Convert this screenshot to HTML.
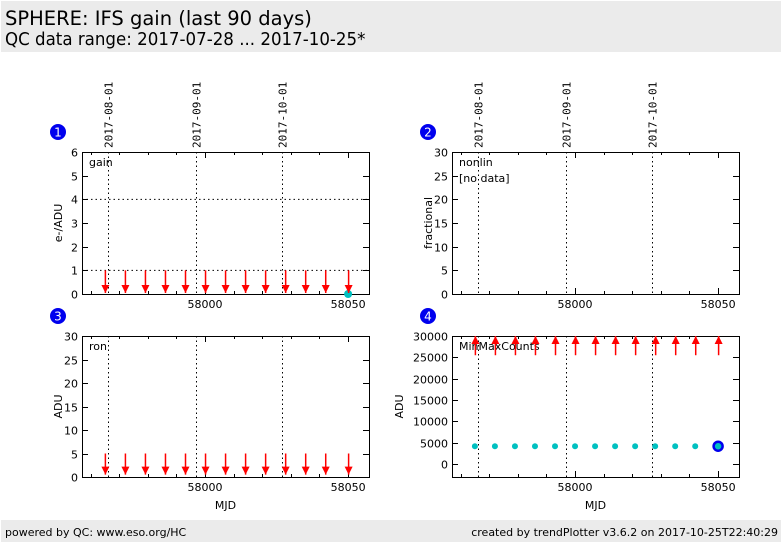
<!DOCTYPE html>
<html><head><meta charset="utf-8">
<style>
body{margin:0;width:782px;height:542px;background:#fff;font-family:"DejaVu Sans","Liberation Sans",sans-serif;overflow:hidden;position:relative}
#hdr{position:absolute;left:1px;top:1px;width:780px;height:51px;background:#ebebeb}
#hdr div{position:absolute;left:4px;color:#000;white-space:nowrap;transform-origin:0 0}
#ftr{position:absolute;left:1px;top:520px;width:780px;height:22px;background:#ebebeb;font-size:11px}
#ftr span{position:absolute;top:6px}
svg{position:absolute;left:0;top:0}
</style></head><body>
<div id="hdr">
<div style="top:6px;font-size:19.5px">SPHERE: IFS gain (last 90 days)</div>
<div style="top:28px;font-size:18px;transform:scaleX(0.925)">QC data range: 2017-07-28 ... 2017-10-25*</div>
</div>
<svg id="chart" width="782" height="542"></svg>
<div id="ftr">
<span style="left:4px">powered by QC: www.eso.org/HC</span>
<span style="right:3px">created by trendPlotter v3.6.2 on 2017-10-25T22:40:29</span>
</div>
<script>
const mjds=[57965,57972,57979,57986,57993,58000,58007,58014,58021,58028,58035,58042,58050];
const gainVals=[0,0,0,0,0,0,0,0,0,0,0,0,0];
const ronVals=[0.5,0.5,0.5,0.5,0.5,0.5,0.5,0.5,0.5,0.5,0.5,0.5,0.5];
const countsVals=[4200,4200,4200,4200,4200,4200,4200,4200,4200,4200,4200,4200,4200];
const dateLabels=["2017-08-01","2017-09-01","2017-10-01"];
const dateMjds=[57966,57997,58027];
const xTickLabels=[58000,58050];
const NS="http://www.w3.org/2000/svg";
const svg=document.getElementById('chart');
function el(t,a,p){const e=document.createElementNS(NS,t);for(const k in a)e.setAttribute(k,a[k]);(p||svg).appendChild(e);return e;}
const XMIN=57957,XMAX=58057.3;
const panels=[
 {n:1,x0:82,y0:152,x1:369,y1:294,ymin:0,ymax:6,yt:[0,1,2,3,4,5,6],ylab:"e-/ADU",name:"gain",vals:gainVals,arrow:"down",aFrom:1,aTo:0,grid:[1,4],dates:true,mjd:false},
 {n:2,x0:452,y0:152,x1:739,y1:294,ymin:0,ymax:30,yt:[0,5,10,15,20,25,30],ylab:"fractional",name:"nonlin",vals:null,dates:true,mjd:false,nodata:true},
 {n:3,x0:82,y0:336,x1:369,y1:477,ymin:0,ymax:30,yt:[0,5,10,15,20,25,30],ylab:"ADU",name:"ron",vals:ronVals,arrow:"down",aFrom:5,aTo:0,mjd:true},
 {n:4,x0:452,y0:336,x1:739,y1:477,ymin:-3000,ymax:30000,yt:[0,5000,10000,15000,20000,25000,30000],ylab:"ADU",name:"MinMaxCounts",vals:countsVals,arrow:"up",aFrom:25500,aTo:30000,mjd:true,dots:true}
];
panels.forEach(p=>{
 const g=el('g',{});
 
 
 const xs=v=>p.x0+(v-XMIN)/(XMAX-XMIN)*(p.x1-p.x0);
 const ys=v=>p.y1-(v-p.ymin)/(p.ymax-p.ymin)*(p.y1-p.y0);
 const cy=p.y0-20, cx=p.x0-24;
 const b=el('circle',{cx:cx,cy:cy,r:8,fill:'#0000ee'},g);
 
 
 const bt=el('text',{x:cx,y:cy+4.5,'text-anchor':'middle','font-size':12,fill:'#fff'},g);bt.textContent=p.n;
 (p.grid||[]).forEach(v=>{el('line',{x1:p.x0,x2:p.x1,y1:ys(v),y2:ys(v),stroke:'#000','stroke-dasharray':'1.5,3'},g);});
 dateMjds.forEach((d,i)=>{
  const x=Math.round(xs(d))+0.5;
  el('line',{x1:x,x2:x,y1:p.y0,y2:p.y1,stroke:'#000','stroke-dasharray':'1.5,3'},g);
  if(p.dates){
   const t=el('text',{x:0,y:0,transform:`translate(${x+4},148) rotate(-90)`,'font-size':11,'font-family':'"DejaVu Sans Mono","Liberation Mono",monospace'},g);
   
   
   t.textContent=dateLabels[i];
  }
 });
 el('rect',{x:p.x0+0.5,y:p.y0+0.5,width:p.x1-p.x0,height:p.y1-p.y0,fill:'none',stroke:'#000'},g);
 for(let v=57960;v<=XMAX;v+=10){
  const x=Math.round(xs(v))+0.5, big=(v%50===0);
  el('line',{x1:x,x2:x,y1:p.y1,y2:p.y1-(big?6:3),stroke:'#000'},g);
  el('line',{x1:x,x2:x,y1:p.y0,y2:p.y0+(big?6:3),stroke:'#000'},g);
 }
 xTickLabels.forEach(v=>{const t=el('text',{x:xs(v),y:p.y1+14,'text-anchor':'middle','font-size':11},g);t.textContent=v;});
 if(p.mjd){const t=el('text',{x:(p.x0+p.x1)/2,y:p.y1+32,'text-anchor':'middle','font-size':11},g);t.textContent='MJD';}
 p.yt.forEach(v=>{
  const y=Math.round(ys(v))+0.5;
  el('line',{x1:p.x0,x2:p.x0+6,y1:y,y2:y,stroke:'#000'},g);
  el('line',{x1:p.x1,x2:p.x1-6,y1:y,y2:y,stroke:'#000'},g);
  const t=el('text',{x:p.x0-4,y:y+4,'text-anchor':'end','font-size':11},g);t.textContent=v;
 });
 const yl=el('text',{x:0,y:0,transform:`translate(${p.n==4?p.x0-49:p.x0-20},${(p.y0+p.y1)/2}) rotate(-90)`,'text-anchor':'middle','font-size':11},g);
 
 
 yl.textContent=p.ylab;
 const nm=el('text',{x:p.x0+7,y:p.y0+14,'font-size':11},g);nm.textContent=p.name;
 if(p.nodata){const t=el('text',{x:p.x0+7,y:p.y0+30,'font-size':11},g);t.textContent='[no data]';}
 if(!p.vals)return;
 if(p.dots){
  p.vals.forEach((v,i)=>{
   const c=el('circle',{cx:xs(mjds[i]),cy:ys(v),r:3,fill:'#00c0c0'},g);
   
   
  });
  const li=p.vals.length-1;
  const c=el('circle',{cx:xs(mjds[li]),cy:ys(p.vals[li]),r:4.5,fill:'#00c0c0',stroke:'#0000ee','stroke-width':2.5},g);
  
  
 } else if(p.n===1){
  const li=p.vals.length-1;
  const c=el('circle',{cx:xs(mjds[li]),cy:ys(p.vals[li]),r:4,fill:'#00c0c0'},g);
  
  
 }
 mjds.forEach((m,i)=>{
  const x=xs(m)+0.5;
  let ya=ys(p.aFrom), yb=ys(p.arrow==='down'?Math.max(p.vals[i],p.aTo):p.aTo);
  if(p.arrow==='down'){yb=Math.min(yb,p.y1-1);}
  const a=el('g',{},g);
  
  
  el('line',{x1:x,x2:x,y1:ya,y2:yb,stroke:'#ff0000','stroke-width':1.5},a);
  const d=p.arrow==='down'?-1:1;
  el('polygon',{points:`${x-4},${yb+d*8} ${x+4},${yb+d*8} ${x},${yb}`,fill:'#ff0000'},a);
 });
});
</script>
</body></html>
